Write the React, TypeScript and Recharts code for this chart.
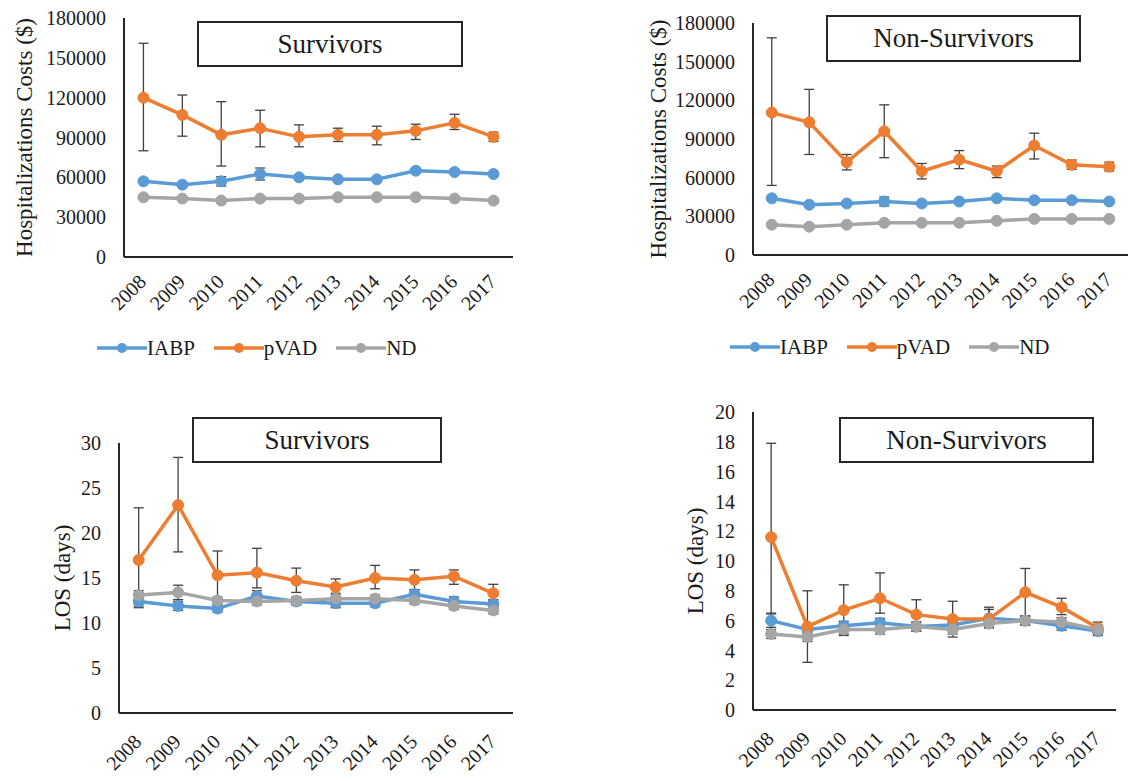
import React from 'react';
import { LineChart, Line, XAxis, YAxis, ErrorBar, Legend } from 'recharts';

const FONT = "'Liberation Serif', 'Times New Roman', serif";
const TEXT = '#1a1a1a';
const AXIS = '#262626';
const ERR = '#404040';

const years = ['2008', '2009', '2010', '2011', '2012', '2013', '2014', '2015', '2016', '2017'];
const seriesNames = ['IABP', 'pVAD', 'ND'];
const seriesColors = ['#5B9BD5', '#ED7D31', '#A5A5A5'];

const costTicks = [0, 30000, 60000, 90000, 120000, 150000, 180000];
const losSurvTicks = [0, 5, 10, 15, 20, 25, 30];
const losNonTicks = [0, 2, 4, 6, 8, 10, 12, 14, 16, 18, 20];

// hospitalization costs, survivors
const costSurvIabp = [57000, 54500, 57000, 62500, 60000, 58500, 58500, 65000, 64000, 62500];
const costSurvPvad = [120000, 107000, 92000, 97000, 90500, 92000, 92000, 95000, 101000, 90500];
const costSurvNd = [45000, 44000, 42500, 44000, 44000, 45000, 45000, 45000, 44000, 42500];
const costSurvIabpErr = [1500, 1500, 3500, 4500, 1500, 1500, 1500, 1500, 1500, 1500];
const costSurvPvadErr = [[40000, 41000], [16000, 15000], [23500, 25000], [14000, 13500], [7500, 9000], [5000, 5000], [7500, 6500], [6500, 5000], [5000, 6500], [3500, 3500]];
const costSurvNdErr = [1000, 1000, 1000, 1000, 1000, 1000, 1000, 1000, 1000, 1000];

// hospitalization costs, non-survivors
const costNonIabp = [44000, 39000, 40000, 41500, 40000, 41500, 44000, 42500, 42500, 41500];
const costNonPvad = [110500, 103000, 72000, 96000, 65000, 74000, 65000, 85000, 70000, 68500];
const costNonNd = [23500, 22000, 23500, 25000, 25000, 25000, 26500, 28000, 28000, 28000];
const costNonIabpErr = [1500, 1500, 1500, 3500, 1500, 1500, 1500, 1500, 1500, 1500];
const costNonPvadErr = [[56500, 58000], [25000, 25500], [6000, 6000], [20500, 20500], [6000, 6000], [7000, 7000], [5000, 4000], [10500, 9500], [3500, 3700], [3300, 3500]];
const costNonNdErr = [1000, 1000, 1000, 1000, 1000, 1000, 1000, 1000, 1000, 1000];

// length of stay, survivors
const losSurvIabp = [12.4, 11.9, 11.6, 13.0, 12.4, 12.2, 12.2, 13.2, 12.4, 12.1];
const losSurvPvad = [17.0, 23.1, 15.3, 15.6, 14.7, 14.0, 15.0, 14.8, 15.2, 13.3];
const losSurvNd = [13.1, 13.4, 12.5, 12.4, 12.5, 12.7, 12.7, 12.5, 11.9, 11.4];
const losSurvIabpErr = [0.7, 0.5, 0.4, 0.6, 0.4, 0.5, 0.4, 0.5, 0.5, 0.4];
const losSurvPvadErr = [[5.1, 5.8], [5.2, 5.3], [2.7, 2.7], [1.7, 2.7], [1.3, 1.4], [0.7, 0.9], [1.2, 1.4], [1.1, 1.1], [0.9, 0.7], [0.7, 1.0]];
const losSurvNdErr = [0.5, 0.8, 0.4, 0.4, 0.4, 0.4, 0.4, 0.4, 0.4, 0.4];

// length of stay, non-survivors
const losNonIabp = [6.0, 5.4, 5.65, 5.85, 5.6, 5.7, 6.15, 6.0, 5.65, 5.3];
const losNonPvad = [11.6, 5.6, 6.7, 7.5, 6.4, 6.1, 6.1, 7.9, 6.9, 5.5];
const losNonNd = [5.1, 4.9, 5.4, 5.4, 5.6, 5.4, 5.8, 6.0, 5.9, 5.4];
const losNonIabpErr = [0.45, 0.3, 0.3, 0.3, 0.3, 0.3, 0.6, 0.3, 0.3, 0.3];
const losNonPvadErr = [[5.1, 6.3], [2.4, 2.4], [1.7, 1.7], [1.0, 1.7], [0.9, 1.0], [1.2, 1.2], [0.5, 0.8], [1.6, 1.6], [0.5, 0.6], [0.4, 0.4]];
const losNonNdErr = [0.3, 0.3, 0.3, 0.3, 0.3, 0.3, 0.3, 0.3, 0.3, 0.3];

const buildRows = (vals: number[][], errs: any[][]) =>
  years.map((year, i) => {
    const row: any = { year };
    seriesNames.forEach((name, s) => {
      row[name] = vals[s][i];
      row[name + 'Err'] = errs[s][i];
    });
    return row;
  });

const YTitle = (props: any) => {
  const { viewBox, text, cx } = props;
  const cy = viewBox.y + viewBox.height / 2;
  return (
    <text
      x={cx}
      y={cy}
      transform={`rotate(-90, ${cx}, ${cy})`}
      textAnchor="middle"
      dominantBaseline="central"
      fontFamily={FONT}
      fontSize={23}
      fill={TEXT}
    >
      {text}
    </text>
  );
};

const YearTick = (props: any) => {
  const { x, y, payload, drop } = props;
  const ax = x + 4;
  const ay = y + drop;
  return (
    <text
      x={ax}
      y={ay}
      transform={`rotate(-45, ${ax}, ${ay})`}
      textAnchor="end"
      fontFamily={FONT}
      fontSize={20}
      fill={TEXT}
    >
      {payload.value}
    </text>
  );
};

const LegendContent = (props: any) => {
  const items = [...(props.payload || [])].sort(
    (a: any, b: any) => seriesNames.indexOf(a.value) - seriesNames.indexOf(b.value)
  );
  return (
    <div style={{ display: 'flex', alignItems: 'center' }}>
      {items.map((p: any) => (
        <div key={p.value} style={{ display: 'flex', alignItems: 'center', marginRight: 19 }}>
          <svg width={50} height={12}>
            <line x1={0} y1={6} x2={50} y2={6} stroke={p.color} strokeWidth={3.5} />
            <circle cx={25} cy={6} r={5} fill={p.color} />
          </svg>
          <span style={{ fontFamily: FONT, fontSize: 21, color: TEXT, lineHeight: '24px' }}>{p.value}</span>
        </div>
      ))}
    </div>
  );
};

interface PanelProps {
  left: number;
  top: number;
  width: number;
  height: number;
  margin: { top: number; right: number; bottom: number; left: number };
  rows: any[];
  ticks: number[];
  yLabel: string;
  yLabelX: number;
  tickDrop: number;
  title: string;
  box: { left: number; top: number; width: number; height: number };
  legendPos?: { left: number; top: number };
}

const Panel: React.FC<PanelProps> = ({ left, top, width, height, margin, rows, ticks, yLabel, yLabelX, tickDrop, title, box, legendPos }) => {
  // half a category on each side, like a band axis
  const plotW = width - margin.left - margin.right - 100;
  const pad = plotW / (rows.length * 2);
  return (
    <div style={{ position: 'absolute', left, top, width, height }}>
      <LineChart width={width} height={height} data={rows} margin={margin}>
        <XAxis
          dataKey="year"
          interval={0}
          padding={{ left: pad, right: pad }}
          tickLine={false}
          tickSize={0}
          tickMargin={0}
          height={60}
          axisLine={{ stroke: AXIS, strokeWidth: 2 }}
          tick={<YearTick drop={tickDrop} />}
        />
        <YAxis
          width={100}
          domain={[ticks[0], ticks[ticks.length - 1]]}
          ticks={ticks}
          interval={0}
          tickLine={false}
          tickSize={0}
          tickMargin={18}
          axisLine={{ stroke: AXIS, strokeWidth: 2 }}
          tick={{ fontFamily: FONT, fontSize: 20, fill: TEXT }}
          label={<YTitle text={yLabel} cx={yLabelX} />}
        />
        {seriesNames.map((name, s) => (
          <Line
            key={name}
            type="linear"
            dataKey={name}
            name={name}
            stroke={seriesColors[s]}
            strokeWidth={3.5}
            dot={{ r: 5.5, fill: seriesColors[s], stroke: seriesColors[s], strokeWidth: 1 }}
            activeDot={false}
            isAnimationActive={false}
          >
            <ErrorBar dataKey={name + 'Err'} direction="y" width={5} stroke={ERR} strokeWidth={1.3} isAnimationActive={false} />
          </Line>
        ))}
        {legendPos && (
          <Legend
            layout="vertical"
            align="center"
            verticalAlign="middle"
            content={<LegendContent />}
            wrapperStyle={{ left: legendPos.left, top: legendPos.top, width: 420, height: 26 }}
          />
        )}
      </LineChart>
      <div
        style={{
          position: 'absolute',
          left: box.left,
          top: box.top,
          width: box.width,
          height: box.height,
          boxSizing: 'border-box',
          border: `2px solid ${AXIS}`,
          background: '#fff',
          display: 'flex',
          alignItems: 'center',
          justifyContent: 'center',
          fontFamily: FONT,
          fontSize: 27,
          color: TEXT,
        }}
      >
        {title}
      </div>
    </div>
  );
};

export default function App() {
  const costSurvRows = buildRows([costSurvIabp, costSurvPvad, costSurvNd], [costSurvIabpErr, costSurvPvadErr, costSurvNdErr]);
  const costNonRows = buildRows([costNonIabp, costNonPvad, costNonNd], [costNonIabpErr, costNonPvadErr, costNonNdErr]);
  const losSurvRows = buildRows([losSurvIabp, losSurvPvad, losSurvNd], [losSurvIabpErr, losSurvPvadErr, losSurvNdErr]);
  const losNonRows = buildRows([losNonIabp, losNonPvad, losNonNd], [losNonIabpErr, losNonPvadErr, losNonNdErr]);

  return (
    <div style={{ position: 'absolute', left: 0, top: 0, width: 1147, height: 781, background: '#fff', overflow: 'hidden' }}>
      <Panel
        left={0}
        top={0}
        width={540}
        height={370}
        margin={{ top: 18, right: 27, bottom: 53, left: 24 }}
        rows={costSurvRows}
        ticks={costTicks}
        yLabel="Hospitalizations Costs ($)"
        yLabelX={24}
        tickDrop={26}
        title="Survivors"
        box={{ left: 197, top: 21, width: 266, height: 46 }}
        legendPos={{ left: 97, top: 336 }}
      />
      <Panel
        left={600}
        top={0}
        width={547}
        height={370}
        margin={{ top: 23, right: 19, bottom: 55, left: 53 }}
        rows={costNonRows}
        ticks={costTicks}
        yLabel="Hospitalizations Costs ($)"
        yLabelX={58}
        tickDrop={26}
        title="Non-Survivors"
        box={{ left: 226, top: 15, width: 255, height: 47 }}
        legendPos={{ left: 130, top: 335 }}
      />
      <Panel
        left={0}
        top={390}
        width={540}
        height={391}
        margin={{ top: 53, right: 27, bottom: 8, left: 19 }}
        rows={losSurvRows}
        ticks={losSurvTicks}
        yLabel="LOS (days)"
        yLabelX={62}
        tickDrop={30}
        title="Survivors"
        box={{ left: 192, top: 27, width: 250, height: 46 }}
      />
      <Panel
        left={600}
        top={390}
        width={547}
        height={391}
        margin={{ top: 22, right: 31, bottom: 11, left: 53 }}
        rows={losNonRows}
        ticks={losNonTicks}
        yLabel="LOS (days)"
        yLabelX={95}
        tickDrop={30}
        title="Non-Survivors"
        box={{ left: 239, top: 27, width: 255, height: 46 }}
      />
    </div>
  );
}
